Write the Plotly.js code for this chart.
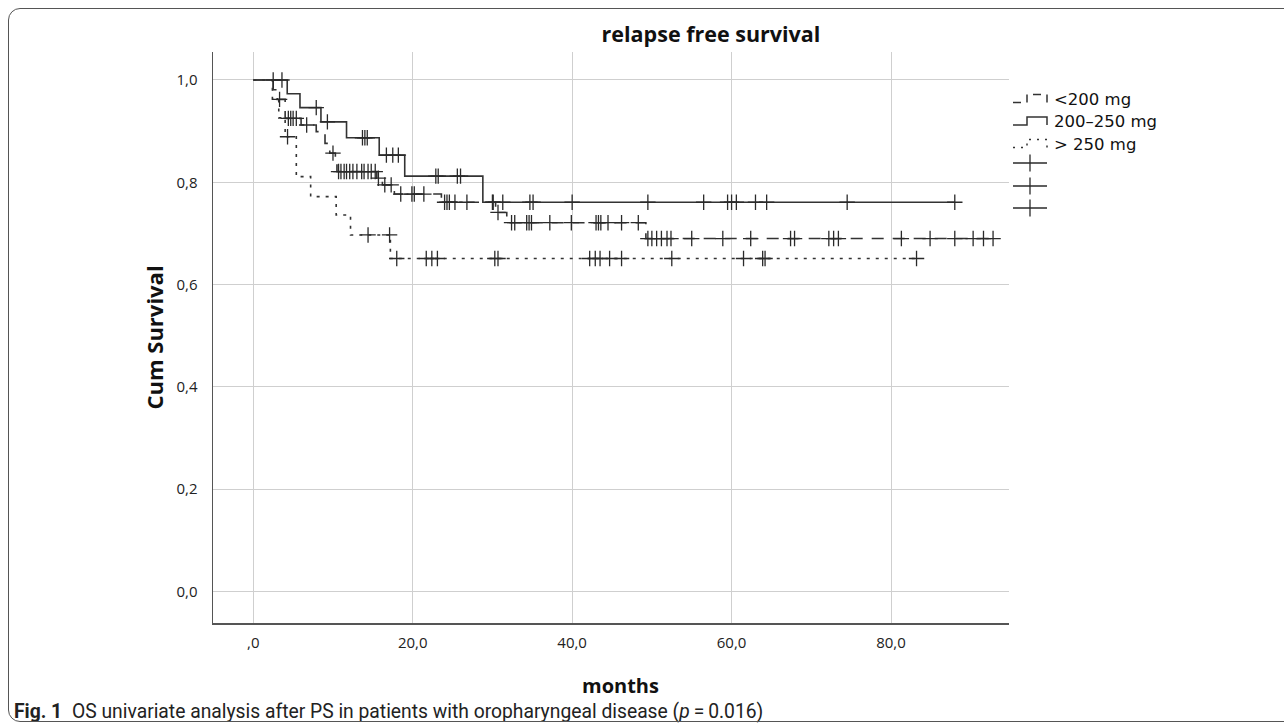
<!DOCTYPE html>
<html>
<head>
<meta charset="utf-8">
<script src="https://cdn.plot.ly/plotly-3.0.1.min.js"></script>
<style>
  html, body { margin: 0; padding: 0; background: #fff; }
  #wrap { position: relative; width: 1284px; height: 726px; overflow: hidden; }
  #chart { position: absolute; left: 0; top: 0; width: 1284px; height: 726px; }
  #frame { position: absolute; left: 8px; top: 8px; width: 1300px; height: 712px;
           border: 1.5px solid #555; border-radius: 12px; pointer-events: none; }
</style>
</head>
<body>
<div id="wrap">
  <div id="chart"></div>
  <div id="frame"></div>
</div>
<script>
// ---------- data ----------
const groupNames = ['<200 mg', '200\u2013250 mg', '> 250 mg'];

// <200 mg : step times (months) and cumulative survival after each step
const lowTimes = [0, 2.5, 3.0, 4.0, 6.0, 7.9, 9.0, 9.6, 10.3, 10.5, 15.5, 16.2, 17.7, 23.6, 30.4, 31.8, 49.25, 93.0];
const lowSurv  = [1.0, 0.981, 0.962, 0.925, 0.912, 0.899, 0.876, 0.857, 0.840, 0.821, 0.808, 0.795, 0.777, 0.761, 0.741, 0.721, 0.690, 0.690];
const lowCensored = [3.3, 4.4, 4.7, 5.0, 5.4, 6.7, 10.0, 10.7, 11.0, 11.4, 11.7, 12.1, 12.5, 13.0, 13.6, 13.9, 14.4, 14.8, 15.3,
  15.7, 16.5, 17.3, 18.5, 19.9, 20.2, 21.4, 24.0, 24.3, 24.6, 25.3, 26.8, 30.1, 30.7, 32.4, 32.8, 34.3, 34.6, 34.9, 37.2, 39.9,
  43.0, 43.3, 43.6, 44.5, 46.2, 48.3, 49.5, 50.0, 50.6, 51.2, 51.9, 52.4, 55.0, 58.9, 62.4, 67.4, 67.9, 72.2, 72.8, 73.4,
  81.3, 84.9, 88.0, 90.3, 91.6, 92.8];

// 200-250 mg
const midTimes = [0, 4.26, 5.86, 8.49, 11.7, 15.8, 19.0, 28.8, 88.0];
const midSurv  = [1.0, 0.973, 0.946, 0.918, 0.887, 0.853, 0.812, 0.761, 0.761];
const midCensored = [2.5, 3.6, 7.9, 9.3, 13.7, 14.0, 14.3, 16.7, 17.5, 18.2, 22.9, 23.2, 25.6, 26.0, 30.0, 31.3, 34.7, 35.1,
  40.0, 49.5, 56.5, 59.5, 60.0, 60.6, 63.0, 64.4, 74.5, 88.0];

// > 250 mg
const highTimes = [0, 2.4, 3.2, 4.0, 5.4, 7.2, 10.4, 12.2, 17.2, 83.2];
const highSurv  = [1.0, 0.963, 0.926, 0.889, 0.811, 0.772, 0.736, 0.697, 0.651, 0.651];
const highCensored = [4.3, 14.4, 17.1, 18.0, 21.7, 22.4, 23.1, 30.3, 30.7, 42.2, 42.9, 43.5, 44.7, 46.2, 52.5, 61.5, 63.9, 64.2, 83.2];

// axis ticks
const xTickValues = [0, 20, 40, 60, 80];
const xTickLabels = [',0', '20,0', '40,0', '60,0', '80,0'];
const yTickValues = [0, 0.2, 0.4, 0.6, 0.8, 1.0];
const yTickLabels = ['0,0', '0,2', '0,4', '0,6', '0,8', '1,0'];

// ---------- helpers ----------
function survivalAt(times, surv, t) {
  let v = surv[0];
  for (let i = 0; i < times.length; i++) { if (times[i] <= t) v = surv[i]; }
  return v;
}
const lineColor = '#333333';
const markColor = '#2a2a2a';
const dashes = ['12px,9px', 'solid', '3px,6px'];
const legendDashes = ['8px,6px', 'solid', '2px,6px'];

function curve(times, surv, name, dash) {
  return { type: 'scatter', mode: 'lines', x: times, y: surv, name: name,
           line: { shape: 'hv', color: lineColor, width: 1.6, dash: dash },
           hoverinfo: 'skip' };
}
function censor(times, surv, cens) {
  return { type: 'scatter', mode: 'markers', x: cens,
           y: cens.map(t => survivalAt(times, surv, t)), name: ' ',
           marker: { symbol: 'cross-thin', size: 11, color: markColor,
                     line: { color: markColor, width: 1.3 } },
           hoverinfo: 'skip' };
}

const data = [
  curve(lowTimes, lowSurv, groupNames[0], dashes[0]),
  curve(midTimes, midSurv, groupNames[1], dashes[1]),
  curve(highTimes, highSurv, groupNames[2], dashes[2]),
  censor(lowTimes, lowSurv, lowCensored),
  censor(midTimes, midSurv, midCensored),
  censor(highTimes, highSurv, highCensored)
];

const baseFont = 'Open Sans, DejaVu Sans, sans-serif';
const L = 213, R = 1009, T = 52, B = 623, W = 1284, H = 726;
const px2x = p => (p - L) / (R - L);
const px2y = p => (B - p) / (B - T);

// ---------- legend (drawn as shapes + text, SPSS style) ----------
const legendRowsPx = [99.5, 122, 144.5];
const legendCrossRowsPx = [163, 186, 208];
const legX0 = 1013, legXStep = 1027, legX1 = 1047, legText = 1053;
const shapes = [];
const annotations = [];
legendRowsPx.forEach((c, i) => {
  const lo = c + 3, hi = c - 5;
  shapes.push({ type: 'path', xref: 'paper', yref: 'paper',
    path: `M${px2x(legX0)},${px2y(lo)} L${px2x(legXStep)},${px2y(lo)} L${px2x(legXStep)},${px2y(hi)} L${px2x(legX1)},${px2y(hi)} L${px2x(legX1)},${px2y(lo)}`,
    line: { color: lineColor, width: 1.5, dash: legendDashes[i] } });
  annotations.push({ text: groupNames[i], xref: 'paper', yref: 'paper', x: px2x(legText), y: px2y(c),
    xanchor: 'left', yanchor: 'middle', showarrow: false, borderpad: 0,
    font: { family: 'DejaVu Sans, Open Sans, sans-serif', size: 16.5, color: '#111' } });
});
legendCrossRowsPx.forEach(c => {
  const cx = (legX0 + legX1) / 2;
  shapes.push({ type: 'line', xref: 'paper', yref: 'paper', x0: px2x(legX0), x1: px2x(legX1), y0: px2y(c), y1: px2y(c),
    line: { color: markColor, width: 1.3 } });
  shapes.push({ type: 'line', xref: 'paper', yref: 'paper', x0: px2x(cx), x1: px2x(cx), y0: px2y(c - 8.5), y1: px2y(c + 8.5),
    line: { color: markColor, width: 1.3 } });
});

annotations.push(
  { text: '<b>Cum Survival</b>', xref: 'paper', yref: 'paper', x: px2x(153), y: 0.5,
    xanchor: 'center', yanchor: 'middle', textangle: -90, showarrow: false,
    font: { family: baseFont, size: 22, color: '#111' } },
  { text: '<b>months</b>', xref: 'paper', yref: 'paper', x: px2x(620), y: px2y(685),
    xanchor: 'center', yanchor: 'middle', showarrow: false,
    font: { family: baseFont, size: 20, color: '#111' } },
  { text: '<b>Fig. 1</b>\u2002OS univariate analysis after PS in patients with oropharyngeal disease (<i>p</i>\u2009=\u20090.016)',
    xref: 'paper', yref: 'paper', x: px2x(12), y: px2y(711),
    xanchor: 'left', yanchor: 'middle', showarrow: false,
    font: { family: 'Roboto, sans-serif', size: 19.3, color: '#222' } }
);

const layout = {
  width: W, height: H, autosize: false,
  margin: { l: L, r: W - R, t: T, b: H - B, pad: 0 },
  paper_bgcolor: '#ffffff', plot_bgcolor: '#ffffff',
  showlegend: false,
  title: { text: '<b>relapse free survival</b>', xref: 'container', x: 711 / W, xanchor: 'center',
           yref: 'container', y: 1 - 34 / H, yanchor: 'middle',
           font: { family: baseFont, size: 21.5, color: '#111' } },
  xaxis: { range: [-5.05, 94.8], tickvals: xTickValues, ticktext: xTickLabels,
           showgrid: true, gridcolor: '#cfcfcf', gridwidth: 1, zeroline: false,
           showline: true, linecolor: '#555', linewidth: 1.5, ticks: '',
           ticklabelstandoff: 5,
           tickfont: { family: baseFont, size: 15, color: '#222' } },
  yaxis: { range: [-0.0616, 1.0547], tickvals: yTickValues, ticktext: yTickLabels,
           showgrid: true, gridcolor: '#cfcfcf', gridwidth: 1, zeroline: false,
           showline: true, linecolor: '#555', linewidth: 1.5, ticks: '',
           ticklabelstandoff: 11,
           tickfont: { family: baseFont, size: 15, color: '#222' } },
  shapes: shapes,
  annotations: annotations
};

Plotly.newPlot('chart', data, layout, { staticPlot: true, displayModeBar: false });
</script>
</body>
</html>
